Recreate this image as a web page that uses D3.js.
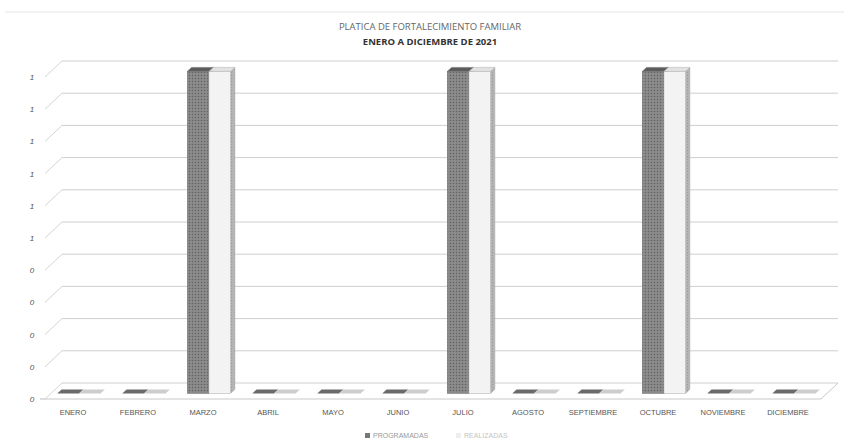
<!DOCTYPE html>
<html><head><meta charset="utf-8">
<script src="https://cdn.jsdelivr.net/npm/d3@7/dist/d3.min.js"></script>
<style>body{margin:0;background:#fff}svg{display:block}</style>
</head><body>
<script>
const months = ["ENERO","FEBRERO","MARZO","ABRIL","MAYO","JUNIO","JULIO","AGOSTO","SEPTIEMBRE","OCTUBRE","NOVIEMBRE","DICIEMBRE"];
const seriesNames = ["PROGRAMADAS","REALIZADAS"];
const programadas = [0,0,1,0,0,0,1,0,0,1,0,0];
const realizadas  = [0,0,1,0,0,0,1,0,0,1,0,0];
const yTicks = [0,0.1,0.2,0.3,0.4,0.5,0.6,0.7,0.8,0.9,1.0];
const titleLines = ["PLATICA DE FORTALECIMIENTO FAMILIAR","ENERO A DICIEMBRE DE 2021"];

const W = 849, H = 446;
const svg = d3.select("body").append("svg").attr("width", W).attr("height", H);
const defs = svg.append("defs");
const pat = defs.append("pattern").attr("id","dots").attr("width",3).attr("height",3).attr("patternUnits","userSpaceOnUse");
pat.append("rect").attr("width",3).attr("height",3).attr("fill","#858585");
pat.append("rect").attr("width",1).attr("height",1).attr("fill","#5f5f5f");
pat.append("rect").attr("x",1.5).attr("y",1.5).attr("width",1).attr("height",1).attr("fill","#a0a0a0");
const pat2 = defs.append("pattern").attr("id","dots2").attr("width",3).attr("height",3).attr("patternUnits","userSpaceOnUse");
pat2.append("rect").attr("width",3).attr("height",3).attr("fill","#b4b4b4");
pat2.append("rect").attr("width",1).attr("height",1).attr("fill","#999");

const DX = 17, DY = -16; // full depth projection
const x = d3.scaleBand().domain(months).range([40.5, 820.5]).paddingInner(0);
const xi = d3.scaleBand().domain(seriesNames).range([0, x.bandwidth()]).paddingOuter(0.5).paddingInner(0);
const y = d3.scaleLinear().domain([0,1]).range([399, 77]);

// back wall gridlines
svg.append("g").selectAll("line").data(yTicks).join("line")
  .attr("x1", 45 + DX).attr("x2", 821 + DX)
  .attr("y1", d => y(d) + DY).attr("y2", d => y(d) + DY)
  .attr("stroke", "#cfcfcf").attr("stroke-width", 1);
// diagonal ticks on left wall
svg.append("g").selectAll("line").data(yTicks).join("line")
  .attr("x1", 45).attr("x2", 45 + DX)
  .attr("y1", d => y(d)).attr("y2", d => y(d) + DY)
  .attr("stroke", "#d5d5d5").attr("stroke-width", 1);
// floor
svg.append("path").attr("d", `M45,${y(0)} L821,${y(0)} L${821+DX},${y(0)+DY}`)
  .attr("fill","none").attr("stroke","#c8c8c8").attr("stroke-width",1);
svg.append("line").attr("x1",40).attr("x2",45).attr("y1",y(0)).attr("y2",y(0)).attr("stroke","#bbb");

// y labels
svg.append("g").selectAll("text").data(yTicks).join("text")
  .attr("x", 32).attr("y", d => y(d) + 3)
  .attr("text-anchor","middle")
  .attr("font-family","Liberation Sans, Arial, sans-serif").attr("font-size",8).attr("font-style","italic")
  .attr("fill","#555").text(d => d3.format(".0f")(d + 1e-9));

// bars
const t0 = 0.35, t1 = 0.6;
const styles = {
  PROGRAMADAS: {front:"url(#dots)", top:"#5c5c5c", side:"#6a6a6a", stroke:"#6a6a6a"},
  REALIZADAS: {front:"#f3f3f3", top:"#e2e2e2", side:"url(#dots2)", stroke:"#aaa"}
};
const data = [];
months.forEach((m,i) => {
  data.push({m, s:"PROGRAMADAS", v:programadas[i]});
  data.push({m, s:"REALIZADAS", v:realizadas[i]});
});
const gb = svg.append("g");
data.forEach(d => {
  const st = styles[d.s];
  const xl = x(d.m) + xi(d.s) + DX*t0, xr = xl + xi.bandwidth();
  const yb = y(0) + DY*t0, yt = y(d.v) + DY*t0;
  const ox = DX*(t1-t0), oy = DY*(t1-t0);
  if (d.v > 0) {
    gb.append("path").attr("d", `M${xr},${yt} L${xr+ox},${yt+oy} L${xr+ox},${yb+oy} L${xr},${yb} Z`)
      .attr("fill", st.side).attr("stroke", st.stroke).attr("stroke-width",0.5);
    gb.append("path").attr("d", `M${xl},${yt} L${xl+ox},${yt+oy} L${xr+ox},${yt+oy} L${xr},${yt} Z`)
      .attr("fill", st.top).attr("stroke", st.stroke).attr("stroke-width",0.5);
    gb.append("rect").attr("x", xl).attr("y", yt).attr("width", xr-xl).attr("height", yb-yt)
      .attr("fill", st.front).attr("stroke", st.stroke).attr("stroke-width",0.5);
  } else {
    gb.append("path").attr("d", `M${xl},${yb} L${xl+ox},${yb+oy} L${xr+ox},${yb+oy} L${xr},${yb} Z`)
      .attr("fill", d.s==="PROGRAMADAS" ? "#6a6a6a" : "#cdcdcd");
  }
});

// x labels
svg.append("g").selectAll("text").data(months).join("text")
  .attr("x", d => x(d) + x.bandwidth()/2).attr("y", 415)
  .attr("text-anchor","middle")
  .attr("font-family","Liberation Sans, Arial, sans-serif").attr("font-size",7.5)
  .attr("fill","#555").text(d => d);

// title
svg.append("text").attr("x",430).attr("y",30).attr("text-anchor","middle")
  .attr("font-family","Open Sans, sans-serif").attr("font-size",9.5).attr("fill","#666").text(titleLines[0]);
svg.append("text").attr("x",430).attr("y",45).attr("text-anchor","middle")
  .attr("font-family","Open Sans, sans-serif").attr("font-size",9.5).attr("font-weight","bold").attr("fill","#333").text(titleLines[1]);
svg.append("line").attr("x1",5).attr("x2",844).attr("y1",12).attr("y2",12).attr("stroke","#e6e6e6");

// legend
const lg = svg.append("g");
const legX = [365, 456];
seriesNames.forEach((s,i) => {
  lg.append("rect").attr("x", legX[i]).attr("y", 433).attr("width",5).attr("height",5)
    .attr("fill", i===0 ? "#777" : "#eee");
  lg.append("text").attr("x", legX[i]+8).attr("y", 438)
    .attr("font-family","Liberation Sans, Arial, sans-serif").attr("font-size",7)
    .attr("fill", i===0 ? "#999" : "#c4c4c4").text(s);
});
</script>
</body></html>
